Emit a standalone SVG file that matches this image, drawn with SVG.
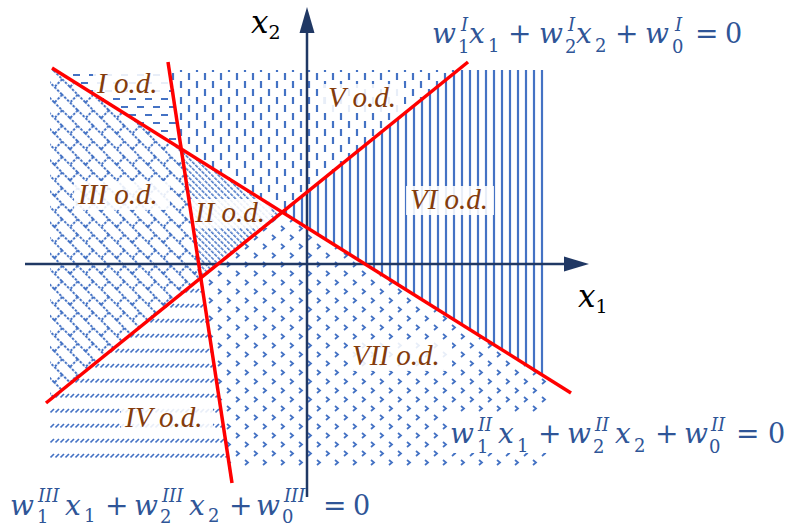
<svg xmlns="http://www.w3.org/2000/svg" width="790" height="528" viewBox="0 0 790 528">
<style>
.pat{stroke:#4472C4;fill:none}
.lbl{font-family:"Liberation Serif","Times New Roman",serif;font-style:italic;font-size:29px;fill:#843C0C}
.box{fill:#fff;opacity:0.88}
.eq{font-family:"DejaVu Serif",serif;fill:#2F5597}
.v{font-style:italic;font-size:28px}
.n{font-size:27px}
.s{font-size:18px}
.si{font-size:18px;font-style:italic}
.op{font-size:28px}
.ax{stroke:#203864;stroke-width:2.5;fill:none}
.axl{font-family:"DejaVu Serif",serif;fill:#000}
.red{stroke:#FF0000;stroke-width:3.5;stroke-linecap:butt}
</style>
<defs>
<pattern id="pHdash" width="16" height="16" patternUnits="userSpaceOnUse">
<path class="pat" stroke-width="2" d="M1 3H8M9 11H16"/>
</pattern>
<pattern id="pVdash" width="16" height="16" patternUnits="userSpaceOnUse" x="3">
<path class="pat" stroke-width="2.2" d="M2 1V8M10 9V16"/>
</pattern>
<pattern id="pVline" width="8" height="8" patternUnits="userSpaceOnUse" x="2">
<path class="pat" stroke-width="2.2" d="M4 0V8"/>
</pattern>
<pattern id="pBrick" width="22" height="22" patternUnits="userSpaceOnUse" patternTransform="rotate(45)">
<path class="pat" stroke-width="2" stroke-dasharray="2.5 1.5" d="M0 1H22M0 12H22M1 1V12M12 12V23"/>
</pattern>
<pattern id="pDiag" width="4.5" height="4.5" patternUnits="userSpaceOnUse" patternTransform="rotate(45)">
<path class="pat" stroke-width="1.5" stroke-dasharray="1.6 1.2" d="M0 1H4.5"/>
</pattern>
<pattern id="pTick" width="5" height="15" patternUnits="userSpaceOnUse" y="2">
<path class="pat" stroke-width="1.6" d="M0.5 5.5L4 2"/>
</pattern>
<pattern id="pChev" width="18" height="18" patternUnits="userSpaceOnUse">
<path class="pat" stroke-width="1.8" d="M2 1L5 3.5L2 6M11 10L14 12.5L11 15"/>
</pattern>
</defs>

<g id="regions">
<polygon id="region-I" fill="url(#pHdash)" points="55.2,70 169.2,70 181.2,148.9"/>
<polygon id="region-V" fill="url(#pVdash)" points="169.2,70 458.1,70 282.2,212.1 181.2,148.9"/>
<polygon id="region-VI" fill="url(#pVline)" points="458.1,70 548,70 548,378.6 282.2,212.1"/>
<polygon id="region-II" fill="url(#pDiag)" points="181.2,148.9 282.2,212.1 200.8,277.9"/>
<polygon id="region-III" fill="url(#pBrick)" points="50,70 55.2,70 181.2,148.9 200.8,277.9 50,399.8"/>
<polygon id="region-IV" fill="url(#pTick)" points="50,399.8 200.8,277.9 229.3,466 50,466"/>
<polygon id="region-VII" fill="url(#pChev)" points="200.8,277.9 282.2,212.1 548,378.6 548,466 229.3,466"/>
</g>

<g id="label-boxes">
<rect class="box" x="93" y="69" width="75" height="29"/>
<rect class="box" x="324" y="84" width="80" height="29"/>
<rect class="box" x="74" y="181" width="96" height="29"/>
<rect class="box" x="191" y="199" width="80" height="29"/>
<rect class="box" x="406" y="186" width="88" height="29"/>
<rect class="box" x="348" y="342" width="104" height="29"/>
<rect class="box" x="121" y="404" width="92" height="29"/>
<rect fill="#fff" x="450" y="413" width="100" height="40"/>
</g>

<g id="axes">
<line class="ax" x1="25" y1="264" x2="566" y2="264"/>
<path d="M589 264L564 256.5L564 271.5z" fill="#203864"/>
<line class="ax" x1="307" y1="497" x2="307" y2="30"/>
<path d="M307 7L299.5 33L314.5 33z" fill="#203864"/>
<text class="axl" x="251" y="33"><tspan font-style="italic" font-size="31">x</tspan><tspan font-size="19" dy="6">2</tspan></text>
<text class="axl" x="578" y="307"><tspan font-style="italic" font-size="31">x</tspan><tspan font-size="19" dy="6">1</tspan></text>
</g>

<g id="connectors">
<line id="line-I" class="red" x1="52" y1="68" x2="571" y2="393"/>
<line id="line-II" class="red" x1="46" y1="403" x2="468" y2="62"/>
<line id="line-III" class="red" x1="168" y1="62" x2="232" y2="483"/>
</g>

<g id="labels">
<text class="lbl" x="97" y="93">I o.d.</text>
<text class="lbl" x="328" y="107">V o.d.</text>
<text class="lbl" x="78" y="204">III o.d.</text>
<text class="lbl" x="195" y="222">II o.d.</text>
<text class="lbl" x="410" y="209">VI o.d.</text>
<text class="lbl" x="352" y="365">VII o.d.</text>
<text class="lbl" x="125" y="427">IV o.d.</text>
</g>

<g id="eq-I" class="eq">
<text class="v" x="432" y="43">w</text>
<text class="s" x="458" y="53">1</text>
<text class="si" x="461" y="31">I</text>
<text class="v" x="469" y="43">x</text>
<text class="s" x="488" y="52">1</text>
<text class="op" x="508" y="43">+</text>
<text class="v" x="539" y="43">w</text>
<text class="s" x="565" y="53">2</text>
<text class="si" x="568" y="31">I</text>
<text class="v" x="576" y="43">x</text>
<text class="s" x="595" y="52">2</text>
<text class="op" x="615" y="43">+</text>
<text class="v" x="645" y="43">w</text>
<text class="s" x="672" y="53">0</text>
<text class="si" x="675" y="31">I</text>
<text class="op" x="695" y="43">=</text>
<text class="n" x="725" y="43">0</text>
</g>

<g id="eq-II" class="eq">
<text class="v" x="450" y="443">w</text>
<text class="s" x="477" y="453">1</text>
<text class="si" x="478" y="431">II</text>
<text class="v" x="498" y="443">x</text>
<text class="s" x="517" y="452">1</text>
<text class="op" x="538" y="443">+</text>
<text class="v" x="567" y="443">w</text>
<text class="s" x="593" y="453">2</text>
<text class="si" x="595" y="431">II</text>
<text class="v" x="615" y="443">x</text>
<text class="s" x="634" y="452">2</text>
<text class="op" x="655" y="443">+</text>
<text class="v" x="684" y="443">w</text>
<text class="s" x="709" y="453">0</text>
<text class="si" x="711" y="431">II</text>
<text class="op" x="736" y="443">=</text>
<text class="n" x="768" y="443">0</text>
</g>

<g id="eq-III" class="eq">
<text class="v" x="10" y="515">w</text>
<text class="s" x="37" y="523">1</text>
<text class="si" x="38" y="502">III</text>
<text class="v" x="65" y="515">x</text>
<text class="s" x="84" y="522">1</text>
<text class="op" x="105" y="515">+</text>
<text class="v" x="134" y="515">w</text>
<text class="s" x="160" y="523">2</text>
<text class="si" x="162" y="502">III</text>
<text class="v" x="189" y="515">x</text>
<text class="s" x="208" y="522">2</text>
<text class="op" x="229" y="515">+</text>
<text class="v" x="256" y="515">w</text>
<text class="s" x="282" y="523">0</text>
<text class="si" x="284" y="502">III</text>
<text class="op" x="323" y="515">=</text>
<text class="n" x="353" y="515">0</text>
</g>
</svg>
